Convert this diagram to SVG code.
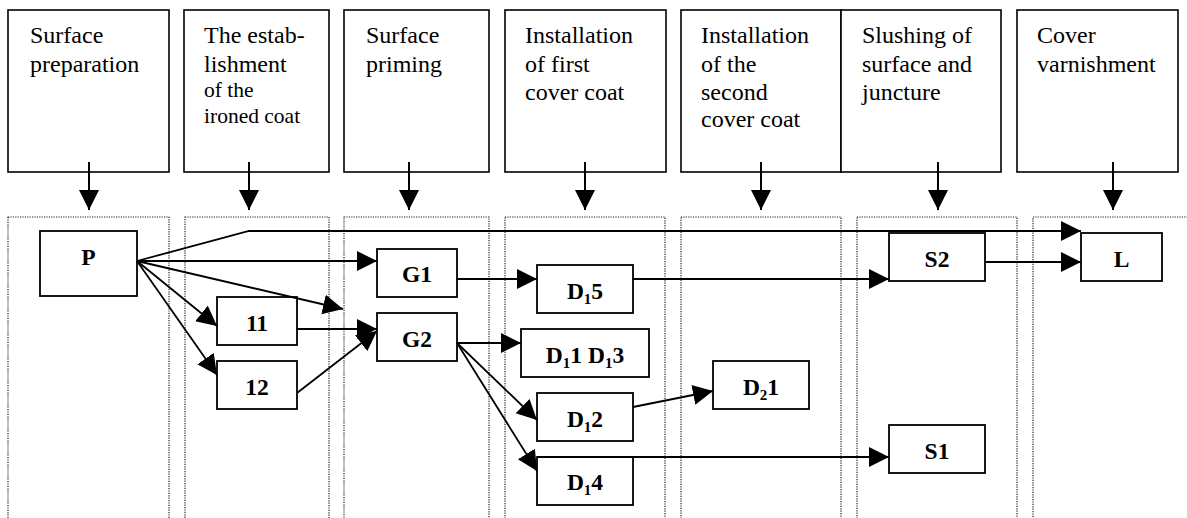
<svg xmlns="http://www.w3.org/2000/svg" width="1187" height="518" viewBox="0 0 1187 518">
<style>
.hdr{fill:#fff;stroke:#000;stroke-width:1.6}
.ht{font-size:24px;fill:#000}
.hs{font-size:21.5px}
.lane{fill:none;stroke:#222;stroke-width:1.2;stroke-dasharray:1.2 1.2}
.box{fill:#fff;stroke:#000;stroke-width:1.8}
.nt{font-size:23.5px;font-weight:bold;text-anchor:middle;fill:#000}
.sub{font-size:15px}
.c{fill:none;stroke:#000;stroke-width:1.8;marker-end:url(#ah)}
.ha{fill:none;stroke:#000;stroke-width:2;marker-end:url(#ah)}
</style>
<defs>
<marker id="ah" markerUnits="userSpaceOnUse" markerWidth="21" markerHeight="21" refX="20" refY="10" orient="auto" viewBox="0 0 21 21">
<path d="M0,0 L20,10 L0,20 z" fill="#000"/>
</marker>
</defs>
<rect width="1187" height="518" fill="#fff"/>
<g id="lanes">
<rect class="lane" x="8" y="217" width="161" height="310"/>
<rect class="lane" x="185" y="217" width="144" height="310"/>
<rect class="lane" x="344" y="217" width="145" height="310"/>
<rect class="lane" x="505" y="217" width="160" height="310"/>
<rect class="lane" x="681" y="217" width="160" height="310"/>
<rect class="lane" x="857" y="217" width="160" height="310"/>
<rect class="lane" x="1033" y="217" width="200" height="310"/>
</g>
<g font-family="Liberation Serif, Times New Roman, serif">
<g id="header1"><rect class="hdr" x="8" y="10" width="161" height="162"/><text class="ht" x="30" y="43">Surface</text><text class="ht" x="30" y="72">preparation</text></g>
<g id="header2"><rect class="hdr" x="184" y="10" width="145" height="162"/><text class="ht" x="204" y="43">The estab-</text><text class="ht" x="204" y="72">lishment</text><text class="ht hs" x="204" y="97">of the</text><text class="ht hs" x="204" y="123">ironed coat</text></g>
<g id="header3"><rect class="hdr" x="344" y="10" width="145" height="162"/><text class="ht" x="366" y="43">Surface</text><text class="ht" x="366" y="72">priming</text></g>
<g id="header4"><rect class="hdr" x="505" y="10" width="161" height="162"/><text class="ht" x="525" y="43">Installation</text><text class="ht" x="525" y="72">of first</text><text class="ht" x="525" y="100">cover coat</text></g>
<g id="header5"><rect class="hdr" x="681" y="10" width="160" height="162"/><text class="ht" x="701" y="43">Installation</text><text class="ht" x="701" y="72">of the</text><text class="ht" x="701" y="100">second</text><text class="ht" x="701" y="127">cover coat</text></g>
<g id="header6"><rect class="hdr" x="841" y="10" width="160" height="162"/><text class="ht" x="862" y="43">Slushing of</text><text class="ht" x="862" y="72">surface and</text><text class="ht" x="862" y="100">juncture</text></g>
<g id="header7"><rect class="hdr" x="1017" y="10" width="161" height="162"/><text class="ht" x="1037" y="43">Cover</text><text class="ht" x="1037" y="72">varnishment</text></g>
<g id="nodeP"><rect class="box" x="40" y="231" width="97" height="65"/><text class="nt" x="88.5" y="265">P</text></g>
<g id="node11"><rect class="box" x="217" y="297" width="80" height="48"/><text class="nt" x="257" y="331">11</text></g>
<g id="node12"><rect class="box" x="217" y="361" width="80" height="48"/><text class="nt" x="257" y="395">12</text></g>
<g id="nodeG1"><rect class="box" x="377" y="249" width="80" height="48"/><text class="nt" x="417" y="282">G1</text></g>
<g id="nodeG2"><rect class="box" x="377" y="313" width="80" height="48"/><text class="nt" x="417" y="347">G2</text></g>
<g id="nodeD15"><rect class="box" x="537" y="265" width="96" height="48"/><text class="nt" x="585" y="299">D<tspan class="sub" dy="5">1</tspan><tspan dy="-5">5</tspan></text></g>
<g id="nodeD11D13"><rect class="box" x="521" y="329" width="128" height="48"/><text class="nt" x="585" y="363">D<tspan class="sub" dy="5">1</tspan><tspan dy="-5">1 D</tspan><tspan class="sub" dy="5">1</tspan><tspan dy="-5">3</tspan></text></g>
<g id="nodeD12"><rect class="box" x="537" y="393" width="96" height="48"/><text class="nt" x="585" y="427">D<tspan class="sub" dy="5">1</tspan><tspan dy="-5">2</tspan></text></g>
<g id="nodeD14"><rect class="box" x="537" y="457" width="96" height="48"/><text class="nt" x="585" y="490">D<tspan class="sub" dy="5">1</tspan><tspan dy="-5">4</tspan></text></g>
<g id="nodeD21"><rect class="box" x="713" y="361" width="96" height="48"/><text class="nt" x="761" y="395">D<tspan class="sub" dy="5">2</tspan><tspan dy="-5">1</tspan></text></g>
<g id="nodeS2"><rect class="box" x="889" y="233" width="96" height="48"/><text class="nt" x="937" y="267">S2</text></g>
<g id="nodeL"><rect class="box" x="1081" y="233" width="81" height="48"/><text class="nt" x="1121.5" y="267">L</text></g>
<g id="nodeS1"><rect class="box" x="889" y="425" width="96" height="48"/><text class="nt" x="937" y="459">S1</text></g>
</g>
<g id="connectors">
<line class="ha" x1="89" y1="162" x2="89" y2="210"/>
<line class="ha" x1="249" y1="162" x2="249" y2="210"/>
<line class="ha" x1="409" y1="162" x2="409" y2="210"/>
<line class="ha" x1="585" y1="162" x2="585" y2="210"/>
<line class="ha" x1="761" y1="162" x2="761" y2="210"/>
<line class="ha" x1="938" y1="162" x2="938" y2="210"/>
<line class="ha" x1="1113" y1="162" x2="1113" y2="210"/>
<polyline class="c" points="137,261 249,231 1081,231"/>
<line class="c" x1="137" y1="261" x2="377" y2="261"/>
<line class="c" x1="137" y1="261" x2="343" y2="309"/>
<line class="c" x1="137" y1="261" x2="217" y2="326"/>
<line class="c" x1="137" y1="261" x2="217" y2="375"/>
<line class="c" x1="297" y1="329" x2="377" y2="329"/>
<line class="c" x1="297" y1="393" x2="377" y2="331"/>
<line class="c" x1="457" y1="279" x2="537" y2="279"/>
<line class="c" x1="457" y1="343" x2="521" y2="343"/>
<line class="c" x1="457" y1="343" x2="537" y2="420"/>
<line class="c" x1="457" y1="343" x2="537" y2="471"/>
<line class="c" x1="633" y1="279" x2="889" y2="279"/>
<line class="c" x1="633" y1="407" x2="713" y2="391"/>
<line class="c" x1="537" y1="457" x2="889" y2="457"/>
<line class="c" x1="985" y1="262" x2="1081" y2="262"/>
</g>
</svg>
